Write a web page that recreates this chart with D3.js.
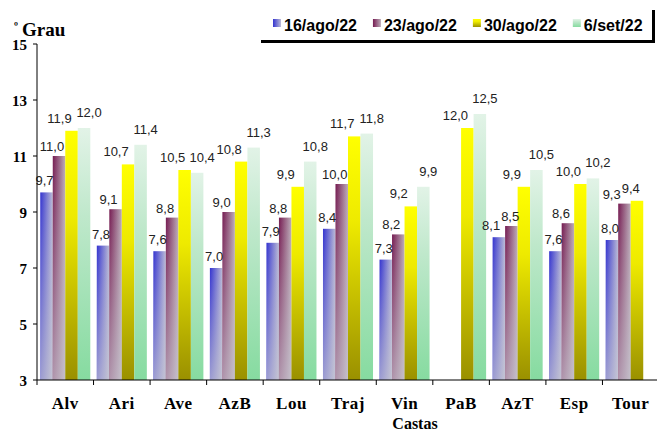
<!DOCTYPE html>
<html lang="pt">
    <head>
        <meta charset="UTF-8">
        <script src="https://d3js.org/d3.v7.min.js"></script>
        <title>Grau - Castas</title>
        <style>
            body { margin: 0; background: #fff; }
        </style>
    </head>
    <body>
        <div id="container"></div>
    </body>
    <script>
        // data
        const castas = ['Alv', 'Ari', 'Ave', 'AzB', 'Lou', 'Traj', 'Vin', 'PaB', 'AzT', 'Esp', 'Tour'];
        const datas = ['16/ago/22', '23/ago/22', '30/ago/22', '6/set/22'];
        const s16ago = [9.7, 7.8, 7.6, 7.0, 7.9, 8.4, 7.3, null, 8.1, 7.6, 8.0];
        const s23ago = [11.0, 9.1, 8.8, 9.0, 8.8, 10.0, 8.2, null, 8.5, 8.6, 9.3];
        const s30ago = [11.9, 10.7, 10.5, 10.8, 9.9, 11.7, 9.2, 12.0, 9.9, 10.0, 9.4];
        const s6set = [12.0, 11.4, 10.4, 11.3, 10.8, 11.8, 9.9, 12.5, 10.5, 10.2, null];
        const yTicks = [3, 5, 7, 9, 11, 13, 15];

        const series = [s16ago, s23ago, s30ago, s6set];

        const width = 657;
        const height = 432;
        const plot = {left: 37, right: 659, top: 44, bottom: 380};

        const svg = d3.select('#container')
            .append('svg')
            .attr('width', width)
            .attr('height', height);

        const defs = svg.append('defs');

        // horizontal gradient (blue, maroon) + vertical fade; vertical only for yellow, green
        const styles = [
            {h: ['#3434d0', '#bcbcd6'], v: null},
            {h: ['#761c52', '#bcacb8'], v: null},
            {h: null, v: ['#ffff00', '#eeea00', '#9a9000']},
            {h: null, v: ['#e2f3e7', '#bfe8cb', '#86dba0']}
        ];
        // label offsets per series (Excel staggering)
        const labDx = [-2, -7, -12, 5];
        const labDy = [7, 5, 8, 11];

        styles.forEach(function(s, i){
            if (s.h){
                const g = defs.append('linearGradient').attr('id', 'h' + i)
                    .attr('x1', 0).attr('y1', 0).attr('x2', 1).attr('y2', 0);
                g.append('stop').attr('offset', '0%').attr('stop-color', s.h[0]);
                g.append('stop').attr('offset', '100%').attr('stop-color', s.h[1]);
            } else {
                const g = defs.append('linearGradient').attr('id', 'h' + i)
                    .attr('x1', 0).attr('y1', 0).attr('x2', 0).attr('y2', 1);
                g.append('stop').attr('offset', '0%').attr('stop-color', s.v[0]);
                g.append('stop').attr('offset', '35%').attr('stop-color', s.v[1]);
                g.append('stop').attr('offset', '100%').attr('stop-color', s.v[2]);
            }
        });
        const fade = defs.append('linearGradient').attr('id', 'fade')
            .attr('x1', 0).attr('y1', 0).attr('x2', 0).attr('y2', 1);
        fade.append('stop').attr('offset', '0%').attr('stop-color', '#c8c8d2').attr('stop-opacity', 0);
        fade.append('stop').attr('offset', '100%').attr('stop-color', '#c8c8d2').attr('stop-opacity', 0.7);

        const x = d3.scaleBand()
            .domain(castas)
            .range([plot.left, plot.right])
            .paddingInner(0.115)
            .paddingOuter(0.0575);

        const xs = d3.scaleBand()
            .domain(d3.range(series.length))
            .range([0, x.bandwidth()]);

        const y = d3.scaleLinear()
            .domain([3, 15])
            .range([plot.bottom, plot.top]);

        const fmt = (v) => d3.format('.1f')(v).replace('.', ',');

        // bars
        series.forEach(function(vals, si){
            const rows = castas.map((c, i) => ({c: c, v: vals[i]})).filter(d => d.v != null);
            const g = svg.append('g');
            g.selectAll('rect.bar')
                .data(rows)
                .enter()
                .append('rect')
                .attr('class', 'bar')
                .attr('x', d => x(d.c) + xs(si))
                .attr('y', d => y(d.v))
                .attr('width', xs.bandwidth())
                .attr('height', d => y(3) - y(d.v))
                .attr('fill', 'url(#h' + si + ')');
            if (styles[si].h){
                g.selectAll('rect.fade')
                    .data(rows)
                    .enter()
                    .append('rect')
                    .attr('class', 'fade')
                    .attr('x', d => x(d.c) + xs(si))
                    .attr('y', d => y(d.v))
                    .attr('width', xs.bandwidth())
                    .attr('height', d => y(3) - y(d.v))
                    .attr('fill', 'url(#fade)');
            }
        });

        // value labels, per category; spread apart when two neighbours collide
        const labG = svg.append('g');
        castas.forEach(function(c, ci){
            let prev = null;
            series.forEach(function(vals, si){
                const v = vals[ci];
                if (v == null) return;
                const t = labG.append('text')
                    .attr('x', x(c) + xs(si) + xs.bandwidth() / 2 + labDx[si])
                    .attr('y', y(v) - labDy[si])
                    .attr('text-anchor', 'middle')
                    .style('font-family', '"Liberation Sans", Arial, sans-serif')
                    .style('font-size', '13px')
                    .style('fill', '#222')
                    .text(fmt(v));
                if (prev){
                    const a = prev.node().getBBox();
                    const b = t.node().getBBox();
                    const vOver = Math.min(a.y + a.height, b.y + b.height) - Math.max(a.y, b.y);
                    const hOver = a.x + a.width - b.x + 1;
                    if (vOver > 3 && hOver > 0){
                        prev.attr('x', +prev.attr('x') - hOver / 2);
                        t.attr('x', +t.attr('x') + hOver / 2);
                    }
                }
                prev = t;
            });
        });

        // y axis
        const ax = svg.append('g');
        ax.append('line')
            .attr('x1', plot.left).attr('x2', plot.left)
            .attr('y1', y(15)).attr('y2', y(3))
            .attr('stroke', '#000');
        ax.selectAll('line.yt')
            .data(yTicks)
            .enter()
            .append('line')
            .attr('x1', plot.left - 4).attr('x2', plot.left)
            .attr('y1', d => y(d)).attr('y2', d => y(d))
            .attr('stroke', '#000');
        ax.selectAll('text.yl')
            .data(yTicks)
            .enter()
            .append('text')
            .attr('x', plot.left - 10)
            .attr('y', d => y(d) + 6)
            .attr('text-anchor', 'end')
            .style('font-family', '"Liberation Serif", "Times New Roman", serif')
            .style('font-weight', 'bold')
            .style('font-size', '15px')
            .text(d => d);

        // x axis
        ax.append('line')
            .attr('x1', plot.left).attr('x2', width)
            .attr('y1', y(3)).attr('y2', y(3))
            .attr('stroke', '#000');
        const half = (x.step() - x.bandwidth()) / 2;
        ax.selectAll('line.xt')
            .data(castas)
            .enter()
            .append('line')
            .attr('x1', d => x(d) - half).attr('x2', d => x(d) - half)
            .attr('y1', y(3)).attr('y2', y(3) + 5)
            .attr('stroke', '#000');
        ax.selectAll('text.xl')
            .data(castas)
            .enter()
            .append('text')
            .attr('x', d => x(d) + x.bandwidth() / 2)
            .attr('y', 409)
            .attr('text-anchor', 'middle')
            .style('font-family', '"Liberation Serif", "Times New Roman", serif')
            .style('font-weight', 'bold')
            .style('font-size', '17px')
            .style('letter-spacing', '0.5px')
            .text(d => d);

        svg.append('text')
            .attr('x', 415)
            .attr('y', 429)
            .attr('text-anchor', 'middle')
            .style('font-family', '"Liberation Serif", "Times New Roman", serif')
            .style('font-weight', 'bold')
            .style('font-size', '16px')
            .text('Castas');

        // y title
        const yt = svg.append('text')
            .attr('x', 14)
            .attr('y', 36)
            .style('font-family', '"Liberation Serif", "Times New Roman", serif')
            .style('font-weight', 'bold');
        yt.append('tspan').attr('dy', -6).style('font-size', '12px').text('º');
        yt.append('tspan').attr('dy', 6).attr('dx', 4).style('font-size', '19px').text('Grau');

        // legend
        const leg = svg.append('g');
        leg.append('line')
            .attr('x1', 261).attr('x2', 655)
            .attr('y1', 41.5).attr('y2', 41.5)
            .attr('stroke', '#000').attr('stroke-width', 3);
        leg.append('line')
            .attr('x1', 653.5).attr('x2', 653.5)
            .attr('y1', 10).attr('y2', 43)
            .attr('stroke', '#000').attr('stroke-width', 3);

        let lx = 273;
        datas.forEach(function(d, i){
            leg.append('rect')
                .attr('x', lx).attr('y', 19)
                .attr('width', 8).attr('height', 8)
                .attr('fill', 'url(#h' + i + ')');
            const t = leg.append('text')
                .attr('x', lx + 11)
                .attr('y', 31)
                .style('font-family', '"Liberation Sans", Arial, sans-serif')
                .style('font-weight', 'bold')
                .style('font-size', '16px')
                .text(d);
            lx += 11 + t.node().getComputedTextLength() + 16;
        });
    </script>
</html>
